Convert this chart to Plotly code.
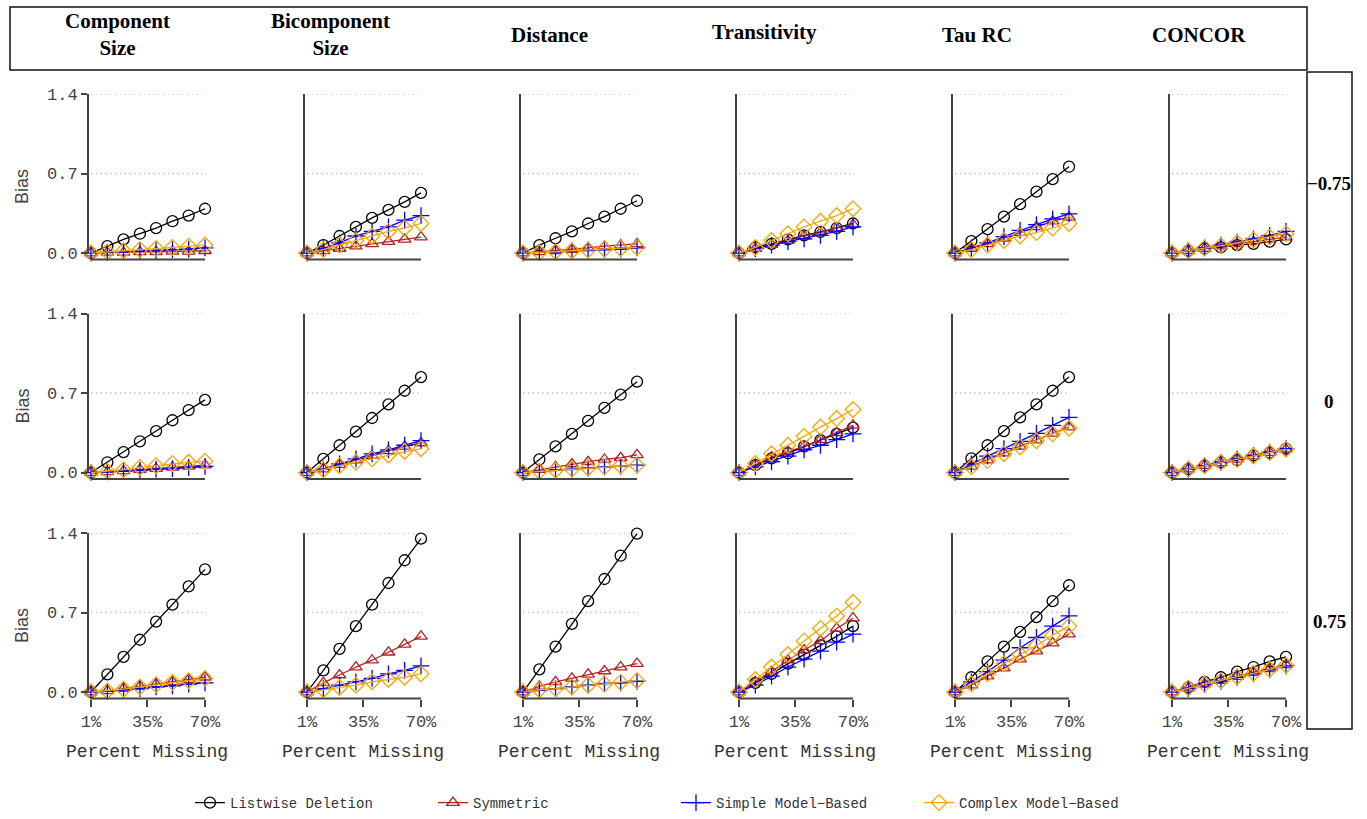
import plotly.graph_objects as go

# ---------------- data ----------------
PCT_MISSING = [1, 10.9, 20.7, 30.6, 40.4, 50.3, 60.1, 70]
X_TICKVALS = [1, 35, 70]
X_TICKTEXT = ["1%", "35%", "70%"]
Y_TICKVALS = [0.0, 0.7, 1.4]
Y_TICKTEXT = ["0.0", "0.7", "1.4"]

MEASURES = ["Component<br>Size", "Bicomponent<br>Size", "Distance",
            "Transitivity", "Tau RC", "CONCOR"]
CORRELATIONS = ["\u22120.75", "0", "0.75"]
METHODS = ["Listwise Deletion", "Symmetric", "Simple Model\u2212Based", "Complex Model\u2212Based"]

# each list: one series per measure (Component, Bicomponent, Distance, Transitivity, Tau RC, CONCOR)
LISTWISE_NEG = [
    [0.0, 0.06, 0.12, 0.17, 0.22, 0.28, 0.33, 0.39],
    [0.0, 0.07, 0.15, 0.23, 0.31, 0.38, 0.45, 0.53],
    [0.0, 0.07, 0.13, 0.19, 0.26, 0.32, 0.39, 0.46],
    [0.0, 0.05, 0.08, 0.12, 0.155, 0.185, 0.22, 0.26],
    [0.0, 0.105, 0.21, 0.32, 0.43, 0.54, 0.65, 0.76],
    [0.0, 0.02, 0.04, 0.05, 0.07, 0.08, 0.10, 0.12],
]
SYMMETRIC_NEG = [
    [0.0, 0.005, 0.005, 0.01, 0.01, 0.015, 0.015, 0.02],
    [0.0, 0.02, 0.04, 0.06, 0.08, 0.10, 0.12, 0.14],
    [0.0, 0.01, 0.02, 0.03, 0.045, 0.06, 0.07, 0.08],
    [0.0, 0.04, 0.075, 0.11, 0.15, 0.18, 0.22, 0.25],
    [0.0, 0.04, 0.08, 0.13, 0.18, 0.23, 0.28, 0.315],
    [0.0, 0.02, 0.04, 0.06, 0.08, 0.10, 0.12, 0.14],
]
SIMPLE_NEG = [
    [0.0, 0.005, 0.01, 0.015, 0.02, 0.03, 0.035, 0.045],
    [0.0, 0.04, 0.09, 0.15, 0.19, 0.23, 0.29, 0.33],
    [0.0, 0.005, 0.01, 0.02, 0.025, 0.03, 0.035, 0.045],
    [0.0, 0.04, 0.07, 0.10, 0.125, 0.155, 0.19, 0.23],
    [0.0, 0.045, 0.09, 0.145, 0.20, 0.25, 0.30, 0.345],
    [0.0, 0.02, 0.045, 0.07, 0.095, 0.125, 0.155, 0.19],
]
COMPLEX_NEG = [
    [0.0, 0.01, 0.02, 0.03, 0.04, 0.05, 0.06, 0.07],
    [0.0, 0.03, 0.07, 0.11, 0.15, 0.19, 0.22, 0.26],
    [0.0, 0.005, 0.012, 0.02, 0.027, 0.035, 0.04, 0.05],
    [0.0, 0.05, 0.11, 0.17, 0.23, 0.28, 0.33, 0.39],
    [0.0, 0.03, 0.07, 0.11, 0.15, 0.18, 0.22, 0.26],
    [0.0, 0.02, 0.045, 0.065, 0.09, 0.115, 0.14, 0.17],
]

LISTWISE_ZERO = [
    [0.0, 0.09, 0.18, 0.275, 0.365, 0.46, 0.55, 0.64],
    [0.0, 0.12, 0.24, 0.36, 0.48, 0.60, 0.72, 0.84],
    [0.0, 0.115, 0.23, 0.34, 0.455, 0.57, 0.685, 0.80],
    [0.0, 0.065, 0.125, 0.17, 0.23, 0.285, 0.34, 0.395],
    [0.0, 0.125, 0.24, 0.365, 0.485, 0.60, 0.72, 0.84],
    [0.0, 0.03, 0.06, 0.09, 0.11, 0.15, 0.175, 0.21],
]
SYMMETRIC_ZERO = [
    [0.0, 0.005, 0.015, 0.025, 0.035, 0.045, 0.055, 0.065],
    [0.0, 0.03, 0.07, 0.11, 0.15, 0.19, 0.23, 0.26],
    [0.0, 0.025, 0.05, 0.075, 0.095, 0.115, 0.13, 0.155],
    [0.0, 0.07, 0.135, 0.185, 0.23, 0.29, 0.35, 0.415],
    [0.0, 0.055, 0.11, 0.17, 0.23, 0.285, 0.345, 0.40],
    [0.0, 0.03, 0.06, 0.085, 0.115, 0.145, 0.175, 0.205],
]
SIMPLE_ZERO = [
    [0.0, 0.005, 0.01, 0.02, 0.03, 0.035, 0.045, 0.055],
    [0.0, 0.03, 0.075, 0.12, 0.165, 0.20, 0.24, 0.28],
    [0.0, 0.01, 0.02, 0.03, 0.04, 0.05, 0.055, 0.065],
    [0.0, 0.05, 0.095, 0.145, 0.20, 0.24, 0.29, 0.34],
    [0.0, 0.075, 0.145, 0.21, 0.275, 0.345, 0.415, 0.485],
    [0.0, 0.03, 0.06, 0.09, 0.12, 0.15, 0.18, 0.21],
]
COMPLEX_ZERO = [
    [0.0, 0.01, 0.025, 0.045, 0.06, 0.08, 0.09, 0.10],
    [0.0, 0.025, 0.06, 0.09, 0.12, 0.155, 0.185, 0.21],
    [0.0, 0.01, 0.02, 0.03, 0.04, 0.05, 0.06, 0.065],
    [0.0, 0.08, 0.165, 0.24, 0.32, 0.40, 0.475, 0.555],
    [0.0, 0.05, 0.105, 0.165, 0.225, 0.28, 0.34, 0.39],
    [0.0, 0.03, 0.06, 0.09, 0.115, 0.145, 0.175, 0.205],
]

LISTWISE_POS = [
    [0.0, 0.155, 0.31, 0.46, 0.62, 0.77, 0.93, 1.08],
    [0.0, 0.19, 0.38, 0.58, 0.77, 0.96, 1.16, 1.35],
    [0.0, 0.20, 0.40, 0.60, 0.80, 0.995, 1.20, 1.395],
    [0.0, 0.08, 0.16, 0.25, 0.33, 0.41, 0.49, 0.58],
    [0.0, 0.13, 0.27, 0.40, 0.53, 0.66, 0.80, 0.94],
    [0.0, 0.04, 0.09, 0.13, 0.18, 0.22, 0.27, 0.31],
]
SYMMETRIC_POS = [
    [0.0, 0.01, 0.03, 0.05, 0.07, 0.09, 0.11, 0.13],
    [0.0, 0.08, 0.15, 0.22, 0.28, 0.35, 0.42, 0.49],
    [0.0, 0.05, 0.09, 0.12, 0.155, 0.185, 0.22, 0.25],
    [0.0, 0.09, 0.18, 0.28, 0.37, 0.45, 0.56, 0.65],
    [0.0, 0.06, 0.14, 0.21, 0.29, 0.36, 0.43, 0.51],
    [0.0, 0.035, 0.07, 0.10, 0.135, 0.17, 0.205, 0.24],
]
SIMPLE_POS = [
    [0.0, 0.005, 0.02, 0.03, 0.045, 0.055, 0.07, 0.08],
    [0.0, 0.03, 0.06, 0.09, 0.12, 0.16, 0.19, 0.23],
    [0.0, 0.015, 0.03, 0.045, 0.06, 0.075, 0.08, 0.095],
    [0.0, 0.06, 0.14, 0.22, 0.29, 0.36, 0.44, 0.51],
    [0.0, 0.09, 0.18, 0.28, 0.39, 0.48, 0.58, 0.67],
    [0.0, 0.03, 0.065, 0.095, 0.13, 0.16, 0.195, 0.23],
]
COMPLEX_POS = [
    [0.0, 0.01, 0.025, 0.045, 0.065, 0.085, 0.10, 0.12],
    [0.0, 0.02, 0.04, 0.06, 0.09, 0.11, 0.13, 0.16],
    [0.0, 0.02, 0.03, 0.045, 0.06, 0.07, 0.085, 0.10],
    [0.0, 0.11, 0.22, 0.33, 0.45, 0.56, 0.67, 0.79],
    [0.0, 0.07, 0.16, 0.25, 0.33, 0.41, 0.50, 0.58],
    [0.0, 0.035, 0.07, 0.10, 0.135, 0.165, 0.20, 0.235],
]

# ---------------- styling ----------------
W, H = 1367, 819
METHOD_STYLE = [
    dict(color="#000000", symbol="circle-open", size=11, rows=[LISTWISE_NEG, LISTWISE_ZERO, LISTWISE_POS]),
    dict(color="#B22222", symbol="triangle-up-open", size=11, rows=[SYMMETRIC_NEG, SYMMETRIC_ZERO, SYMMETRIC_POS]),
    dict(color="#0000FF", symbol="cross-thin-open", size=12, rows=[SIMPLE_NEG, SIMPLE_ZERO, SIMPLE_POS]),
    dict(color="#F5A800", symbol="diamond-open", size=12, rows=[COMPLEX_NEG, COMPLEX_ZERO, COMPLEX_POS]),
]
AXIS_PX = [88, 304, 520, 736, 952, 1169]
ROW_TOP = [94, 313.5, 533]
PANEL_H = 165.5
PANEL_W = 122
X_RANGE = [-0.816, 73.02]
Y_RANGE = [-0.057, 1.4]
AX_COLOR = "#444444"
MONO = "Liberation Mono"

fig = go.Figure()
layout = dict(template="none", width=W, height=H, autosize=False,
              margin=dict(l=0, r=0, t=0, b=0, pad=0, autoexpand=False),
              paper_bgcolor="white", plot_bgcolor="white",
              showlegend=True)
shapes = []
annotations = []

for r in range(3):
    for c in range(6):
        k = r * 6 + c + 1
        xa = "x" if k == 1 else f"x{k}"
        ya = "y" if k == 1 else f"y{k}"
        for mi, ms in enumerate(METHOD_STYLE):
            fig.add_trace(go.Scatter(
                x=PCT_MISSING, y=ms["rows"][r][c], mode="lines+markers",
                xaxis=xa, yaxis=ya, name=METHODS[mi], legendgroup=METHODS[mi],
                showlegend=(k == 1), cliponaxis=False,
                line=dict(color=ms["color"], width=1.3),
                marker=dict(symbol=ms["symbol"], size=ms["size"], color=ms["color"],
                            line=dict(width=1.3, color=ms["color"])),
            ))
        x0p = AXIS_PX[c]
        layout["xaxis" if k == 1 else f"xaxis{k}"] = dict(
            domain=[x0p / W, (x0p + PANEL_W) / W], range=X_RANGE, anchor=ya, automargin=False,
            showgrid=False, zeroline=False, showline=False,
            ticks="outside" if r == 2 else "", ticklen=7, tickwidth=1.5, tickcolor=AX_COLOR,
            tickvals=X_TICKVALS, ticktext=X_TICKTEXT, showticklabels=(r == 2),
            tickfont=dict(family=MONO, size=17, color=AX_COLOR), fixedrange=True)
        layout["yaxis" if k == 1 else f"yaxis{k}"] = dict(
            domain=[1 - (ROW_TOP[r] + PANEL_H) / H, 1 - ROW_TOP[r] / H], range=Y_RANGE, anchor=xa,
            automargin=False, showgrid=False, zeroline=False, showline=False,
            ticks="outside" if c == 0 else "", ticklen=6, tickwidth=1.5, tickcolor=AX_COLOR,
            tickvals=Y_TICKVALS, ticktext=Y_TICKTEXT, showticklabels=(c == 0),
            tickfont=dict(family=MONO, size=17, color=AX_COLOR), fixedrange=True)
        # gridlines
        for gv in [0.7, 1.4]:
            shapes.append(dict(type="line", xref=xa, yref=ya, x0=1, x1=71, y0=gv, y1=gv,
                               line=dict(color="#b8b8b8", width=1.3, dash="1.3px,3.5px"), layer="below"))
        # x axis line (from 1% to 70%)
        shapes.append(dict(type="line", xref=xa, yref=f"{ya} domain", x0=1, x1=70, y0=0, y1=0,
                           line=dict(color=AX_COLOR, width=2)))
        # y axis line (0 to 1.4)
        shapes.append(dict(type="line", xref=f"{xa} domain", yref=ya, x0=0, x1=0, y0=0, y1=1.4,
                           line=dict(color=AX_COLOR, width=2)))
        if c == 0:
            annotations.append(dict(text="Bias", xref="paper", yref="paper", x=22 / W,
                                    y=1 - (ROW_TOP[r] + 93) / H, textangle=-90, showarrow=False,
                                    xanchor="center", yanchor="middle",
                                    font=dict(family="Liberation Sans", size=18, color=AX_COLOR)))
        if r == 2:
            annotations.append(dict(text="Percent Missing", xref="paper", yref="paper",
                                    x=(x0p + 59) / W, y=1 - 752 / H, showarrow=False,
                                    xanchor="center", yanchor="middle",
                                    font=dict(family=MONO, size=18, color="#333333")))

# header box & titles
shapes.append(dict(type="rect", xref="paper", yref="paper", x0=10 / W, x1=1307 / W,
                   y0=1 - 70 / H, y1=1 - 7 / H, line=dict(color="#111111", width=1.5)))
shapes.append(dict(type="rect", xref="paper", yref="paper", x0=1307 / W, x1=1352 / W,
                   y0=1 - 729 / H, y1=1 - 72 / H, line=dict(color="#111111", width=1.5)))
TITLE_X = [117, 330, 549, 765, 977, 1199]
TITLE_Y = [35, 35, 35, 32, 35, 35]
for c in range(6):
    annotations.append(dict(text=f"<b>{MEASURES[c]}</b>", xref="paper", yref="paper",
                            x=TITLE_X[c] / W, y=1 - TITLE_Y[c] / H, showarrow=False,
                            xanchor="center", yanchor="middle",
                            font=dict(family="Liberation Serif", size=21, color="#000000")))
ROW_LABEL_Y = [183, 401, 621]
for r in range(3):
    annotations.append(dict(text=f"<b>{CORRELATIONS[r]}</b>", xref="paper", yref="paper",
                            x=1329 / W, y=1 - ROW_LABEL_Y[r] / H, showarrow=False,
                            xanchor="center", yanchor="middle",
                            font=dict(family="Liberation Serif", size=19, color="#000000")))

layout["shapes"] = shapes
layout["annotations"] = annotations
layout["legend"] = dict(orientation="h", x=190 / W, y=1 - 803 / H, xanchor="left", yanchor="middle",
                        entrywidth=198, entrywidthmode="pixels", itemwidth=30,
                        font=dict(family=MONO, size=14, color="#333333"),
                        bgcolor="rgba(0,0,0,0)", borderwidth=0)
fig.update_layout(**layout)
fig.write_html("out.html", config={"displayModeBar": False},
               post_script="document.body.style.margin='0px';document.body.style.overflow='hidden';")
